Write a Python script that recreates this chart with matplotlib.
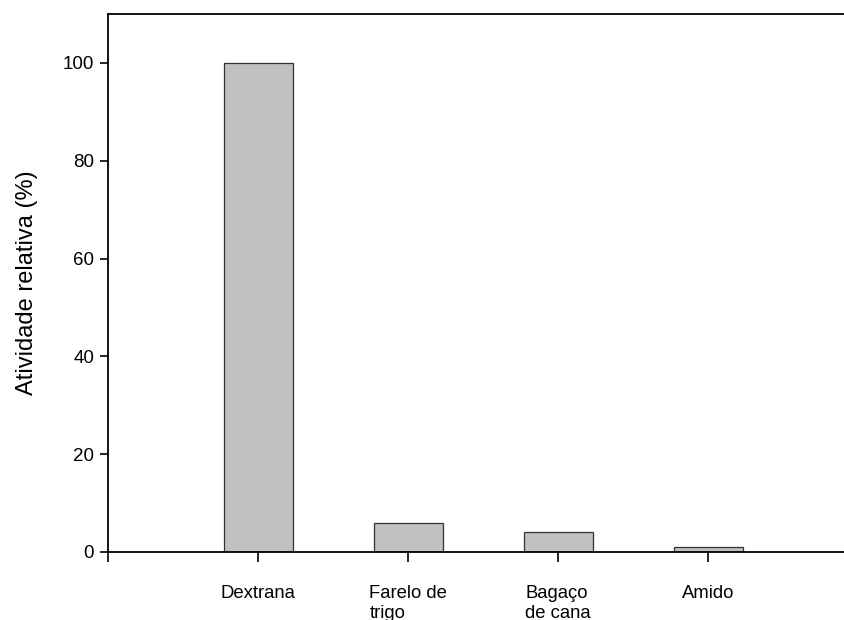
import matplotlib.pyplot as plt

plt.rcParams['font.family'] = ['Liberation Sans', 'DejaVu Sans']

substratos = ['Dextrana', 'Farelo de\ntrigo', 'Bagaço\nde cana', 'Amido']
atividade = [100, 6, 4, 1]
posicoes = [1, 2, 3, 4]

fig = plt.figure(figsize=(8.45, 6.2), dpi=100)
ax = fig.add_axes([108 / 845, 68 / 620, 1 - 108 / 845, 538 / 620])

ax.bar(posicoes, atividade, width=0.46, color='#c0c0c0',
       edgecolor='#333333', linewidth=0.9)

ax.set_xlim(0, 4.91)
ax.set_ylim(0, 110)
ax.set_yticks([0, 20, 40, 60, 80, 100])
ax.set_xticks([0] + posicoes)
ax.set_xticklabels([''] + substratos, multialignment='left', fontsize=13.3)
ax.tick_params(axis='y', labelsize=13.5, direction='out', length=6, width=1.2, pad=4)
ax.tick_params(axis='x', direction='out', length=7, width=1.2, pad=17)

for lado in ['top', 'bottom', 'left']:
    ax.spines[lado].set_linewidth(1.3)
ax.spines['right'].set_visible(False)

ax.set_ylabel('Atividade relativa (%)', fontsize=17, labelpad=18)

fig.savefig('out.png', dpi=100)
